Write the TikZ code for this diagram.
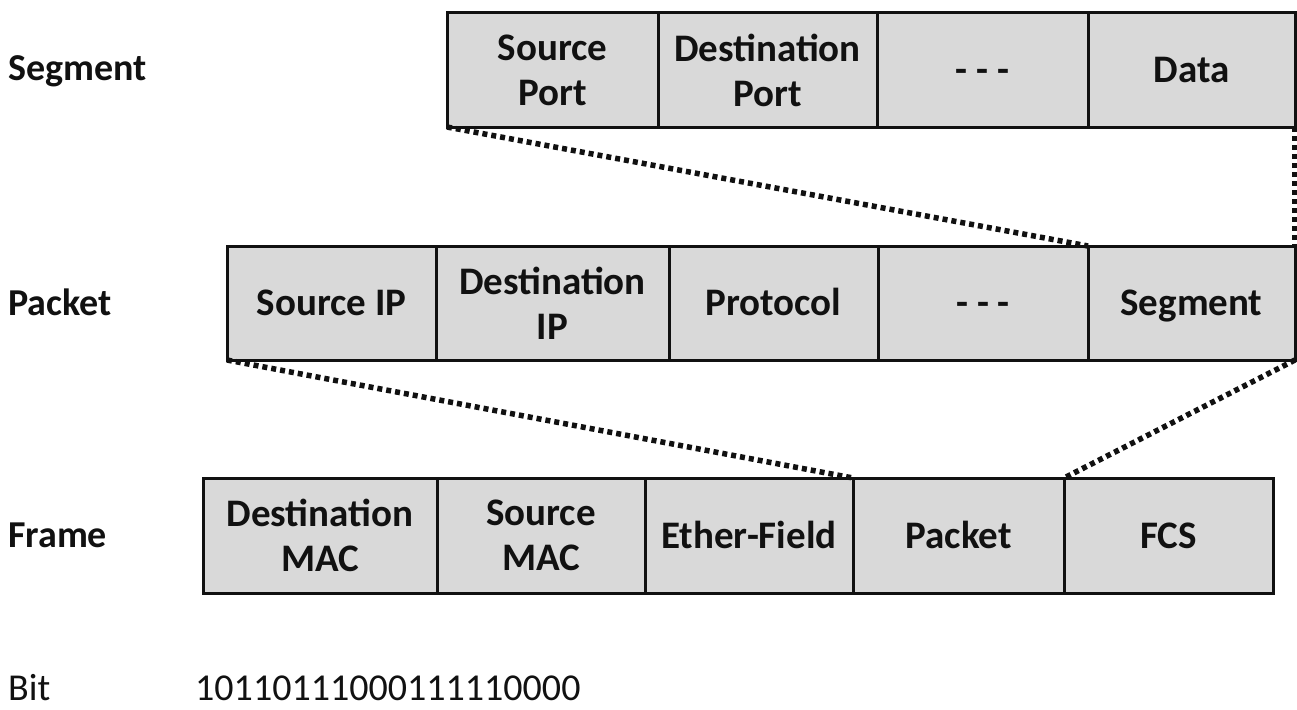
\documentclass[tikz,border=0pt]{standalone}
\usepackage{fontspec}
\setmainfont{Carlito}
\definecolor{boxgray}{HTML}{D9D9D9}
\definecolor{ink}{HTML}{111111}

% one field of a header: name, left, right, top, bottom, text
\newcommand\fieldbox[6]{%
  \node[field, minimum width={#3-#2}, minimum height={#5-#4}]
    (#1) at ({(#2+#3)/2},{(#4+#5)/2}) {#6};}
% a one-line field text, centred on its capitals
\newcommand\capline[1]{\raisebox{0pt}[0.644em][0pt]{#1}}

\tikzset{
  field/.style={draw=ink, line width=3pt, fill=boxgray, inner sep=0pt,
    outer sep=0pt, align=center, text=ink,
    font=\fontsize{39}{45}\selectfont\bfseries},
  rowlabel/.style={anchor=base west, inner sep=0pt, text=ink,
    font=\fontsize{38}{45}\selectfont\bfseries},
  plainlabel/.style={anchor=base west, inner sep=0pt, text=ink,
    font=\fontsize{38}{45}\selectfont},
  dotline/.style={draw=ink, line width=5.5pt, dash pattern=on 5pt off 4pt},
}

\begin{document}
\begin{tikzpicture}[x=1pt, y=-1pt]
  \useasboundingbox[fill=white] (0,0) rectangle (1297,709);

  % row labels
  \node[rowlabel] (lseg) at (8,80) {Segment};
  \node[rowlabel] (lpkt) at (8,315) {Packet};
  \node[rowlabel] (lfrm) at (8,547) {Frame};
  \node[plainlabel] (lbit) at (8,700) {Bit};
  \node[plainlabel] (bits) at (195,700) {10110111000111110000};

  % segment header
  \fieldbox{s1}{447}{658}{13}{127}{Source\\Port}
  \fieldbox{s2}{658}{877}{13}{127}{Destination\\Port}
  \fieldbox{s3}{877}{1088}{13}{127}{\capline{- - -}}
  \fieldbox{s4}{1088}{1295}{13}{127}{\capline{Data}}

  % packet header
  \fieldbox{p1}{227}{436}{246}{360}{\capline{Source IP}}
  \fieldbox{p2}{436}{669}{246}{360}{Destination\\IP}
  \fieldbox{p3}{669}{878}{246}{360}{\capline{Protocol}}
  \fieldbox{p4}{878}{1088}{246}{360}{\capline{- - -}}
  \fieldbox{p5}{1088}{1295}{246}{360}{\capline{Segment}}

  % frame
  \fieldbox{f1}{203}{437}{478}{593}{Destination\\MAC}
  \fieldbox{f2}{437}{645}{478}{593}{Source\\MAC}
  \fieldbox{f3}{645}{853}{478}{593}{\capline{Ether-Field}}
  \fieldbox{f4}{853}{1064}{478}{593}{\capline{Packet}}
  \fieldbox{f5}{1064}{1273}{478}{593}{\capline{FCS}}

  % encapsulation guides
  \draw[dotline] (s1.south west) -- (p5.north west);
  \draw[dotline] (s4.south east) -- (p5.north east);
  \draw[dotline] (p1.south west) -- (f4.north west);
  \draw[dotline] (p5.south east) -- (f4.north east);
\end{tikzpicture}
\end{document}
